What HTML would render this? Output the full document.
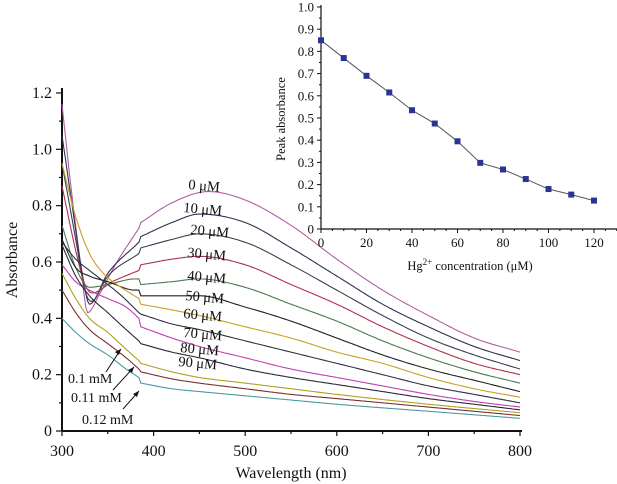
<!DOCTYPE html>
<html><head><meta charset="utf-8"><style>
body{margin:0;background:#fff}
svg{display:block}
text{font-family:"Liberation Serif",serif;fill:#111}
</style></head><body>
<svg id="s" width="617" height="484" xmlns="http://www.w3.org/2000/svg">
<g id="main" stroke="#111" fill="none"></g>
<g id="curves" fill="none" stroke-width="1.1"></g>
<g id="ins"></g>
</svg>
<script>
const NS="http://www.w3.org/2000/svg";
function el(p,t,a,txt){const e=document.createElementNS(NS,t);for(const k in a)e.setAttribute(k,a[k]);if(txt!==undefined)e.textContent=txt;p.appendChild(e);return e;}
const S=document.getElementById('s'),M=document.getElementById('main'),C=document.getElementById('curves'),I=document.getElementById('ins');
const X=w=>62+(w-300)*0.916, Y=a=>431-a*281.7;
el(M,'line',{x1:62,y1:431,x2:522,y2:431,'stroke-width':2});
el(M,'line',{x1:62,y1:88,x2:62,y2:431,'stroke-width':2});
for(let w=300;w<=800;w+=50){el(M,'line',{x1:X(w),y1:431,x2:X(w),y2:w%100?434:436,'stroke-width':1.2});}
for(let i=0;i<=12;i++){const a=i/10;el(M,'line',{x1:62,y1:Y(a),x2:i%2?59:56,y2:Y(a),'stroke-width':1.2});}
for(let w=300;w<=800;w+=100)el(S,'text',{x:X(w),y:456,'font-size':16,'text-anchor':'middle'},w);
['0','0.2','0.4','0.6','0.8','1.0','1.2'].forEach((t,i)=>el(S,'text',{x:52,y:Y(i*0.2)+5,'font-size':16,'text-anchor':'end'},t));
el(S,'text',{x:291,y:478,'font-size':16,'text-anchor':'middle'},'Wavelength (nm)');
el(S,'text',{x:17,y:260,'font-size':16,'text-anchor':'middle',transform:'rotate(-90 17 260)'},'Absorbance');
function mono(p){ // Fritsch-Carlson, returns sampled points
  const n=p.length,d=[],m=[];
  for(let i=0;i<n-1;i++)d.push((p[i+1][1]-p[i][1])/(p[i+1][0]-p[i][0]));
  m[0]=d[0];m[n-1]=d[n-2];
  for(let i=1;i<n-1;i++){m[i]=(d[i-1]*d[i]<=0)?0:(d[i-1]+d[i])/2;}
  for(let i=0;i<n-1;i++){if(d[i]==0){m[i]=m[i+1]=0;continue;}const a=m[i]/d[i],b=m[i+1]/d[i],s=a*a+b*b;if(s>9){const t=3/Math.sqrt(s);m[i]=t*a*d[i];m[i+1]=t*b*d[i];}}
  const out=[];
  for(let i=0;i<n-1;i++){const h=p[i+1][0]-p[i][0];const N=Math.max(2,Math.ceil(h/2));
    for(let k=0;k<N;k++){const t=k/N,t2=t*t,t3=t2*t;
      const y=(2*t3-3*t2+1)*p[i][1]+(t3-2*t2+t)*h*m[i]+(-2*t3+3*t2)*p[i+1][1]+(t3-t2)*h*m[i+1];
      out.push([p[i][0]+t*h,y]);}}
  out.push(p[n-1]);return out;}
const cs=[
['#b05fa0',[[300,1.16],[310,0.86],[320,0.6],[328,0.42],[340,0.48],[360,0.6],[384,0.72]],[[386,0.74],[420,0.81],[460,0.85],[500,0.82],[550,0.73],[600,0.61],[650,0.5],[700,0.41],[750,0.33],[800,0.28]]],
['#303050',[[300,1.05],[312,0.78],[322,0.56],[330,0.45],[350,0.56],[384,0.67]],[[386,0.69],[420,0.74],[450,0.77],[500,0.74],[550,0.65],[600,0.55],[650,0.45],[700,0.37],[750,0.3],[800,0.25]]],
['#3a3f55',[[300,0.95],[315,0.68],[325,0.5],[332,0.46],[350,0.55],[384,0.63]],[[386,0.65],[420,0.68],[450,0.70],[500,0.67],[550,0.59],[600,0.5],[650,0.41],[700,0.33],[750,0.27],[800,0.22]]],
['#b03050',[[300,0.87],[315,0.64],[325,0.52],[333,0.49],[355,0.53],[384,0.57]],[[386,0.59],[420,0.61],[450,0.62],[500,0.59],[550,0.52],[600,0.45],[650,0.37],[700,0.3],[750,0.24],[800,0.20]]],
['#4a7a50',[[300,0.73],[315,0.58],[330,0.51],[350,0.52],[380,0.54],[384,0.54]],[[386,0.52],[420,0.53],[450,0.54],[500,0.51],[550,0.45],[600,0.39],[650,0.32],[700,0.26],[750,0.21],[800,0.17]]],
['#222',[[300,0.68],[315,0.58],[330,0.55],[350,0.53],[380,0.5],[384,0.5]],[[386,0.48],[420,0.48],[450,0.48],[500,0.44],[550,0.39],[600,0.33],[650,0.27],[700,0.22],[750,0.18],[800,0.14]]],
['#c8a020',[[300,0.95],[315,0.76],[330,0.63],[345,0.56],[360,0.52],[384,0.47]],[[386,0.45],[420,0.43],[450,0.41],[500,0.37],[550,0.33],[600,0.28],[650,0.24],[700,0.19],[750,0.15],[800,0.12]]],
['#303040',[[300,0.67],[315,0.61],[330,0.57],[350,0.52],[365,0.48],[384,0.42]],[[386,0.415],[420,0.38],[450,0.36],[500,0.32],[550,0.28],[600,0.24],[650,0.2],[700,0.16],[750,0.13],[800,0.10]]],
['#c040b0',[[300,0.59],[315,0.53],[330,0.5],[350,0.47],[370,0.44],[384,0.40]],[[386,0.37],[420,0.33],[450,0.30],[500,0.26],[550,0.22],[600,0.19],[650,0.16],[700,0.13],[750,0.105],[800,0.085]]],
['#2a2a3a',[[300,0.66],[315,0.55],[330,0.48],[350,0.42],[370,0.36],[384,0.32]],[[386,0.31],[420,0.28],[450,0.26],[500,0.22],[550,0.19],[600,0.165],[650,0.14],[700,0.115],[750,0.095],[800,0.075]]],
['#b0a020',[[300,0.56],[315,0.47],[330,0.4],[350,0.35],[370,0.29],[384,0.25]],[[386,0.24],[420,0.21],[450,0.19],[500,0.17],[550,0.15],[600,0.13],[700,0.095],[800,0.065]]],
['#7a3030',[[300,0.5],[315,0.42],[330,0.36],[350,0.31],[370,0.26],[384,0.22]],[[386,0.21],[420,0.185],[450,0.17],[500,0.15],[550,0.13],[600,0.115],[700,0.085],[800,0.055]]],
['#4a9aa0',[[300,0.4],[315,0.35],[330,0.31],[350,0.27],[370,0.22],[384,0.19]],[[386,0.17],[420,0.15],[450,0.14],[500,0.125],[550,0.11],[600,0.095],[700,0.07],[800,0.045]]]];
cs.forEach(([c,a,b])=>{const pts=mono(a).concat(mono(b));el(C,'polyline',{stroke:c,points:pts.map(q=>X(q[0]).toFixed(1)+','+Y(q[1]).toFixed(1)).join(' ')});});
const labs=[['0 μM',188,189],['10 μM',183,212],['20 μM',190,234],['30 μM',187,257],['40 μM',187,280],['50 μM',185,300],['60 μM',183,318],['70 μM',183,337],['80 μM',180,352],['90 μM',178,366]];
labs.forEach(([t,x,y])=>el(S,'text',{x:x,y:y,'font-size':14.5,transform:`rotate(5 ${x} ${y})`},t));
el(S,'text',{x:68,y:383,'font-size':14},'0.1 mM');
el(S,'text',{x:71,y:402,'font-size':14},'0.11 mM');
el(S,'text',{x:82,y:424,'font-size':14},'0.12 mM');
[[106,372,121,349],[113,390,134,367],[123,409,139,391]].forEach(([a,b,c,d])=>{el(S,'line',{x1:a,y1:b,x2:c,y2:d,stroke:'#111','stroke-width':1});el(S,'polygon',{points:`${c},${d} ${c-6},${d+3} ${c-2},${d+6}`,fill:'#111'});});
const ix=v=>321+v*2.275, iy=v=>229-v*222;
el(I,'line',{x1:321,y1:229,x2:617,y2:229,stroke:'#111','stroke-width':1.2});
el(I,'line',{x1:321,y1:5,x2:321,y2:229,stroke:'#111','stroke-width':1.2});
for(let v=0;v<=130;v+=5)el(I,'line',{x1:ix(v),y1:229,x2:ix(v),y2:v%20?231:233,stroke:'#111'});
for(let i=0;i<=20;i++)el(I,'line',{x1:321,y1:iy(i/20),x2:i%2?319:317,y2:iy(i/20),stroke:'#111'});
for(let v=0;v<=120;v+=20)el(I,'text',{x:ix(v),y:247,'font-size':13,'text-anchor':'middle'},v);
['0','0.1','0.2','0.3','0.4','0.5','0.6','0.7','0.8','0.9','1.0'].forEach((t,i)=>el(I,'text',{x:314,y:iy(i/10)+4.5,'font-size':13,'text-anchor':'end'},t));
const t=el(I,'text',{x:470,y:270,'font-size':12.5,'text-anchor':'middle'},'Hg');
el(t,'tspan',{dy:-5,'font-size':9},'2+');el(t,'tspan',{dy:5},' concentration (μM)');
el(I,'text',{x:285,y:119,'font-size':12.5,'text-anchor':'middle',transform:'rotate(-90 285 119)'},'Peak absorbance');
const pk=[0.85,0.77,0.69,0.615,0.535,0.475,0.395,0.298,0.268,0.225,0.18,0.155,0.128];
el(I,'polyline',{fill:'none',stroke:'#555','stroke-width':1,points:pk.map((v,i)=>ix(i*10)+','+iy(v)).join(' ')});
pk.forEach((v,i)=>el(I,'rect',{x:ix(i*10)-3,y:iy(v)-3,width:6,height:6,fill:'#2a3590'}));
</script>
</body></html>
